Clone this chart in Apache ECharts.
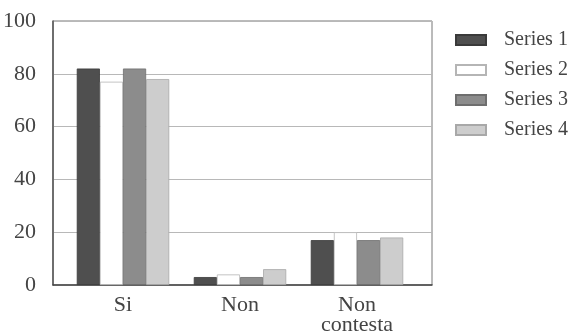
<!DOCTYPE html>
<html>
<head>
<meta charset="utf-8">
<script src="https://cdn.jsdelivr.net/npm/echarts@6/dist/echarts.min.js"></script>
<style>
  html, body { margin: 0; padding: 0; background: #fff; }
  #chart { width: 573px; height: 332px; }
</style>
</head>
<body>
<div id="chart"></div>
<script>
// Responses per answer category
const categories = ['Si', 'Non', 'Non\ncontesta'];
const seriesNames = ['Series 1', 'Series 2', 'Series 3', 'Series 4'];
const series1 = [82, 3, 17];
const series2 = [77, 4, 20];
const series3 = [82, 3, 17];
const series4 = [78, 6, 18];
const yTicks = [0, 20, 40, 60, 80, 100];

const values = [series1, series2, series3, series4];
const fills = ['#4f4f4f', '#ffffff', '#8c8c8c', '#cdcdcd'];
const borders = ['#3a3a3a', '#b5b5b5', '#6e6e6e', '#a8a8a8'];
const serif = '"Liberation Serif", "DejaVu Serif", serif';

const chart = echarts.init(document.getElementById('chart'), null, { renderer: 'canvas' });

chart.setOption({
  animation: false,
  backgroundColor: '#fff',
  legend: {
    orient: 'vertical',
    left: 450,
    top: 25,
    icon: 'rect',
    itemWidth: 30,
    itemHeight: 10,
    itemGap: 10,
    data: seriesNames,
    textStyle: { fontFamily: serif, fontSize: 20, color: '#444', lineHeight: 20, padding: [0, 0, 0, 13] }
  },
  grid: [
    // framed plot area with value scale and gridlines
    { left: 53, right: 141, top: 21, bottom: 47, outerBoundsMode: 'none', show: true,
      borderColor: '#777', borderWidth: 1, backgroundColor: 'transparent' },
    // bar area
    { left: 64.5, right: 157.5, top: 21, bottom: 47, outerBoundsMode: 'none' }
  ],
  xAxis: [
    { gridIndex: 0, type: 'category', data: categories, axisLine: { show: true, lineStyle: { color: '#444', width: 1.5 } },
      axisTick: { show: false }, axisLabel: { show: false }, splitLine: { show: false } },
    { gridIndex: 1, type: 'category', data: categories, axisLine: { show: false }, axisTick: { show: false },
      axisLabel: { fontFamily: serif, fontSize: 22, color: '#444', margin: 10, lineHeight: 20 } }
  ],
  yAxis: [
    { gridIndex: 0, type: 'value', min: yTicks[0], max: yTicks[yTicks.length - 1], interval: 20,
      axisLine: { show: true, lineStyle: { color: '#555', width: 1.5 } }, axisTick: { show: false },
      axisLabel: { fontFamily: serif, fontSize: 22, color: '#444', margin: 17 },
      splitLine: { show: true, lineStyle: { color: '#b8b8b8', width: 1 } } },
    { gridIndex: 1, type: 'value', min: yTicks[0], max: yTicks[yTicks.length - 1], show: false }
  ],
  series: seriesNames.map((name, i) => ({
    name: name,
    type: 'bar',
    xAxisIndex: 1,
    yAxisIndex: 1,
    data: values[i],
    barGap: '0%',
    barCategoryGap: '21%',
    itemStyle: { color: fills[i], borderColor: borders[i], borderWidth: 0.8 }
  }))
});
</script>
</body>
</html>
